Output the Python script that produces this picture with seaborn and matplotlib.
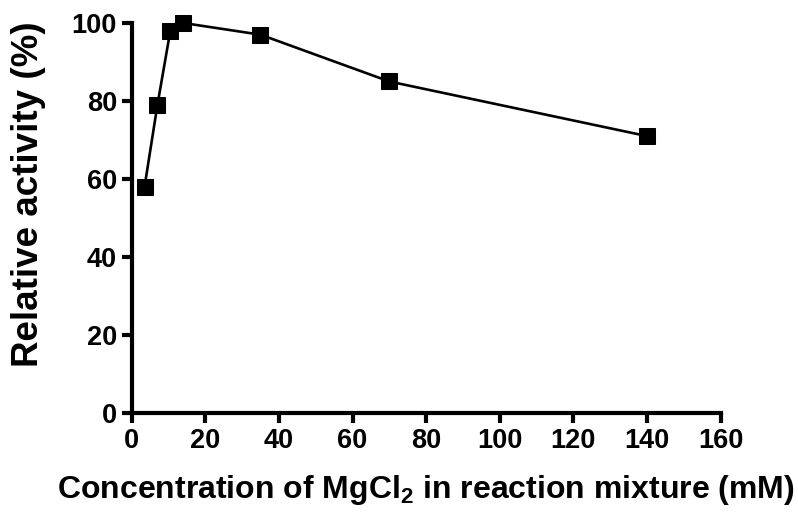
import matplotlib
matplotlib.use("Agg")
import matplotlib.pyplot as plt
import seaborn as sns
import pandas as pd

# MgCl2 concentration (mM) and relative enzyme activity (%)
mgcl2_mm = [3.5, 7, 10.5, 14, 35, 70, 140]
activity_pct = [58, 79, 98, 100, 97, 85, 71]
x_ticks = [0, 20, 40, 60, 80, 100, 120, 140, 160]
y_ticks = [0, 20, 40, 60, 80, 100]

sns.set_style("ticks")
plt.rcParams["font.family"] = ["Liberation Sans", "DejaVu Sans"]
plt.rcParams["font.weight"] = "bold"
plt.rcParams["text.color"] = "black"
plt.rcParams["axes.labelcolor"] = "black"
plt.rcParams["xtick.color"] = "black"
plt.rcParams["ytick.color"] = "black"
plt.rcParams["mathtext.fontset"] = "custom"
plt.rcParams["mathtext.rm"] = "Liberation Sans:bold"
plt.rcParams["mathtext.bf"] = "Liberation Sans:bold"
plt.rcParams["mathtext.it"] = "Liberation Sans:bold"

df = pd.DataFrame({"conc": mgcl2_mm, "activity": activity_pct})

fig = plt.figure(figsize=(7.98, 5.12), dpi=100)
ax = fig.add_axes([0.165, 0.1934, 0.738, 0.7617])

sns.lineplot(data=df, x="conc", y="activity", ax=ax, color="black",
             linewidth=1.9, marker="s", markersize=12, markeredgecolor="black",
             clip_on=False, zorder=5)

ax.set_xlim(0, 160)
ax.set_ylim(0, 100)
ax.set_xticks(x_ticks)
ax.set_yticks(y_ticks)
ax.set_xticklabels([str(v) for v in x_ticks])
ax.set_yticklabels([str(v) for v in y_ticks])

for side in ("top", "right"):
    ax.spines[side].set_visible(False)
for side in ("left", "bottom"):
    ax.spines[side].set_linewidth(3)
    ax.spines[side].set_color("black")
    ax.spines[side].set_capstyle("projecting")

ax.tick_params(axis="both", which="major", length=7.5, width=3,
               color="black", labelcolor="black", labelsize=19.5, pad=3)
for lbl in ax.get_xticklabels() + ax.get_yticklabels():
    lbl.set_fontweight("bold")

ax.set_xlabel(r"Concentration of MgCl$_2$ in reaction mixture (mM)",
              fontsize=23, fontweight="bold", color="black")
ax.set_ylabel("Relative activity (%)", fontsize=26.5, fontweight="bold",
              color="black")
ax.xaxis.set_label_coords(0.5, -0.197)
ax.xaxis.label.set_verticalalignment("center")
ax.yaxis.set_label_coords(-0.176, 0.5615)
ax.yaxis.label.set_verticalalignment("center")

fig.savefig("out.png", dpi=100)
